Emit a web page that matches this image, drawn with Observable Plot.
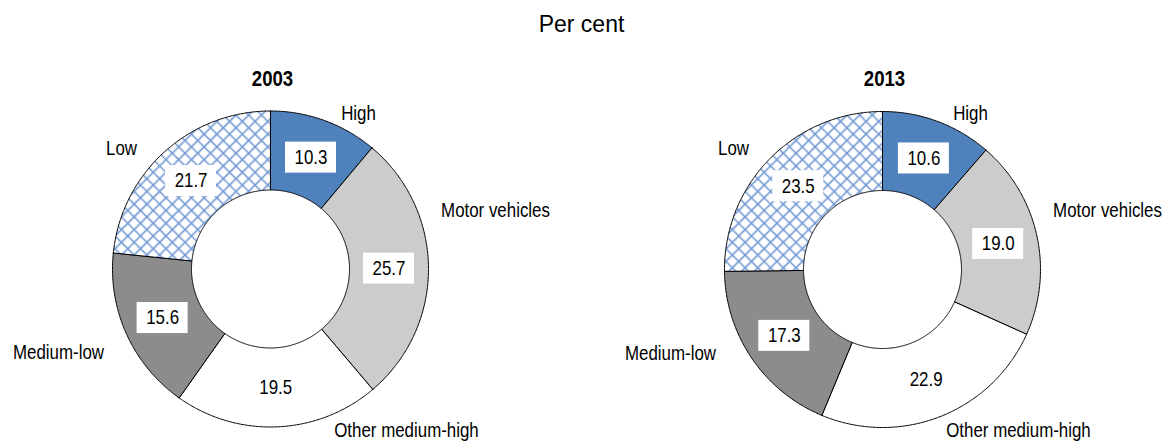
<!DOCTYPE html>
<html>
<head>
<meta charset="utf-8">
<script src="https://cdn.jsdelivr.net/npm/d3@7"></script>
<script src="https://cdn.jsdelivr.net/npm/@observablehq/plot@0.6"></script>
<style>
  body { margin: 0; background: #ffffff; }
  #chart svg { display: block; background: #ffffff; }
</style>
</head>
<body>
<div id="chart"></div>
<script>
// ---------- data ----------
const categories = ["High", "Motor vehicles", "Other medium-high", "Medium-low", "Low"];
const years = ["2003", "2013"];
const share2003 = [10.3, 25.7, 19.5, 15.6, 21.7];
const share2013 = [10.6, 19.0, 22.9, 17.3, 23.5];
const titleText = "Per cent";

// ---------- styles / layout ----------
const sliceColors = ["#4F81BD", "#CCCCCC", "#FFFFFF", "#8C8C8C", "url(#xhatch)"];
const W = 1166, H = 441;
const centers = { "2003": [270, 268.5], "2013": [882, 269] };
const outerR = 158, innerR = 79;
// fixed placement of category labels relative to each donut centre (px)
const labelOffset = {
  "High": [88, -155.5],
  "Motor vehicles": [225, -58.5],
  "Other medium-high": [136, 161.5],
  "Medium-low": [-212, 84],
  "Low": [-149, -120.5]
};
const sans = "'Liberation Sans', Arial, sans-serif";
const narrowScale = 0.845; // emulates Arial Narrow

// ---------- build geometry from values ----------
const seriesByYear = { "2003": share2003, "2013": share2013 };
const pie = d3.pie().sort(null).value(d => d.value);
const ringPts = [], valueLabels = [], catLabels = [], yearLabels = [];
for (const year of years) {
  const [cx, cy] = centers[year];
  yearLabels.push({ x: cx + 2, y: cy - 190.5, text: year });
  const rows = categories.map((c, i) => ({ year, category: c, value: seriesByYear[year][i] }));
  for (const a of pie(rows)) {
    const id = year + "|" + a.data.category;
    const span = a.endAngle - a.startAngle;
    const n = Math.max(2, Math.ceil(span / (Math.PI / 360)));
    const pts = [];
    for (let k = 0; k <= n; k++) {
      const t = a.startAngle + span * k / n;
      pts.push([cx + outerR * Math.sin(t), cy - outerR * Math.cos(t)]);
    }
    for (let k = n; k >= 0; k--) {
      const t = a.startAngle + span * k / n;
      pts.push([cx + innerR * Math.sin(t), cy - innerR * Math.cos(t)]);
    }
    pts.push(pts[0]);
    for (const [x, y] of pts) ringPts.push({ id, category: a.data.category, x, y });
    const m = (a.startAngle + a.endAngle) / 2, rm = (outerR + innerR) / 2;
    valueLabels.push({ x: cx + rm * Math.sin(m), y: cy - rm * Math.cos(m), text: a.data.value.toFixed(1) });
    const [dx, dy] = labelOffset[a.data.category];
    catLabels.push({ x: cx + dx, y: cy + dy, text: a.data.category });
  }
}

const boxW = 51, boxH = 31;

const chart = Plot.plot({
  width: W,
  height: H,
  margin: 0,
  x: { domain: [0, W], range: [0, W], axis: null },
  y: { domain: [0, H], range: [0, H], axis: null },
  color: { domain: categories, range: sliceColors },
  style: { background: "#ffffff", color: "#000000" },
  marks: [
    Plot.line(ringPts, {
      x: "x", y: "y", z: "id", fill: "category",
      stroke: "#000000", strokeWidth: 1, curve: "linear", strokeLinejoin: "round"
    }),
    Plot.rect(valueLabels, {
      x1: d => d.x - boxW / 2, x2: d => d.x + boxW / 2,
      y1: d => d.y - boxH / 2, y2: d => d.y + boxH / 2,
      fill: "#ffffff"
    }),
    Plot.text(valueLabels, {
      x: "x", y: "y", text: "text", className: "narrow",
      fontSize: 20, fontFamily: sans, fill: "#000000"
    }),
    Plot.text(catLabels, {
      x: "x", y: "y", text: "text", className: "narrow",
      fontSize: 20, fontFamily: sans, fill: "#000000"
    }),
    Plot.text(yearLabels, {
      x: "x", y: "y", text: "text", className: "narrow",
      fontSize: 22, fontWeight: "bold", fontFamily: sans, fill: "#000000"
    }),
    Plot.text([titleText], {
      frameAnchor: "top", dx: -2, dy: 15, text: d => d,
      fontSize: 23, fontFamily: sans, fill: "#000000"
    })
  ]
});

// condense the label texts horizontally (Arial Narrow look)
chart.querySelectorAll("g.narrow text").forEach(t => {
  const tr = t.getAttribute("transform") || "";
  t.setAttribute("transform", tr + ` scale(${narrowScale},1)`);
});

// crosshatch pattern for the "Low" slices
const ns = "http://www.w3.org/2000/svg";
const defs = document.createElementNS(ns, "defs");
const pat = document.createElementNS(ns, "pattern");
const s = 9;
pat.setAttribute("id", "xhatch");
pat.setAttribute("patternUnits", "userSpaceOnUse");
pat.setAttribute("width", s);
pat.setAttribute("height", s);
pat.setAttribute("patternTransform", "rotate(45)");
const bg = document.createElementNS(ns, "rect");
bg.setAttribute("width", s); bg.setAttribute("height", s); bg.setAttribute("fill", "#ffffff");
const hatch = document.createElementNS(ns, "path");
hatch.setAttribute("d", `M0,${s / 2}H${s}M${s / 2},0V${s}`);
hatch.setAttribute("stroke", "#6F97D3");
hatch.setAttribute("stroke-width", 1.6);
hatch.setAttribute("fill", "none");
pat.appendChild(bg); pat.appendChild(hatch);
defs.appendChild(pat);
chart.insertBefore(defs, chart.firstChild);

document.getElementById("chart").appendChild(chart);
</script>
</body>
</html>
